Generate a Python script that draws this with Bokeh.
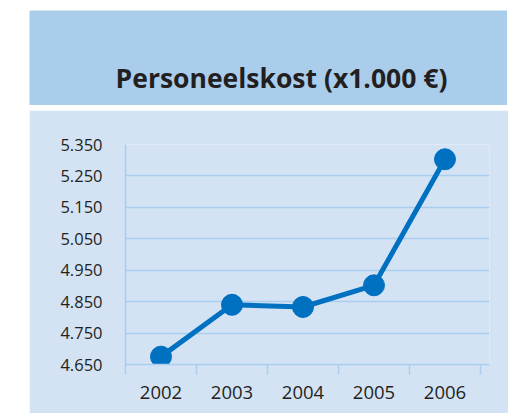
from bokeh.plotting import figure
from bokeh.models import Range1d, FixedTicker, Label, ColumnDataSource
from bokeh.layouts import column
from bokeh.embed import file_html
from bokeh.resources import INLINE

# ---- data ----
years = ["2002", "2003", "2004", "2005", "2006"]
kost = [4675, 4840, 4833, 4902, 5303]
y_ticks = [4650, 4750, 4850, 4950, 5050, 5150, 5250, 5350]
y_tick_labels = ["4.650", "4.750", "4.850", "4.950", "5.050", "5.150", "5.250", "5.350"]
title_text = "Personeelskost (x1.000 €)"

# ---- styles ----
HEADER = "#abcdec"
PANEL = "#d3e3f4"
GRID = "#a9cdee"
LINE = "#0070c0"
TEXT = "#231f20"
FONT = "Open Sans"

# ---- header ----
header = figure(width=478, height=95, x_axis_type=None, y_axis_type=None,
                x_range=Range1d(0, 478), y_range=Range1d(0, 95),
                toolbar_location=None, output_backend="svg", min_border=0,
                background_fill_color=HEADER, border_fill_color=HEADER,
                outline_line_color=None, margin=(10, 0, 0, 29))
header.frame_align = False
header.add_layout(Label(x=252, y=28, x_units="screen", y_units="screen",
                        text=title_text, text_align="center", text_baseline="alphabetic",
                        text_font=FONT, text_font_style="bold", text_font_size="26.5px",
                        text_color=TEXT))

# ---- main chart ----
xs = list(range(len(years)))
src = ColumnDataSource(dict(x=xs, y=kost))

p = figure(width=479, height=303, toolbar_location=None, output_backend="svg",
           x_range=Range1d(-0.5, len(years) - 0.5 + 0.127), y_range=Range1d(4650, 5350),
           min_border_left=96, min_border_right=19, min_border_top=34, min_border_bottom=49,
           background_fill_color=PANEL, border_fill_color=PANEL,
           outline_line_color=None, margin=(5, 0, 0, 29))
p.frame_align = False

p.line("x", "y", source=src, line_color=LINE, line_width=5)
p.scatter("x", "y", source=src, size=21, fill_color=LINE, line_color=LINE)

p.xgrid.visible = False
p.ygrid.grid_line_color = GRID
p.ygrid.grid_line_width = 1.5
p.ygrid.ticker = FixedTicker(ticks=y_ticks)

ya = p.yaxis[0]
ya.ticker = FixedTicker(ticks=y_ticks)
ya.major_label_overrides = {t: l for t, l in zip(y_ticks, y_tick_labels)}
ya.axis_line_color = GRID
ya.axis_line_width = 1.5
ya.major_tick_line_color = None
ya.minor_tick_line_color = None
ya.major_tick_out = 0
ya.major_tick_in = 0
ya.major_label_standoff = 23
ya.major_label_text_font = FONT
ya.major_label_text_font_size = "16.5px"
ya.major_label_text_color = TEXT

xa = p.xaxis[0]
xa.ticker = FixedTicker(ticks=xs, minor_ticks=[i - 0.5 for i in range(len(years) + 1)])
xa.major_label_overrides = {i: y for i, y in enumerate(years)}
xa.axis_line_color = GRID
xa.axis_line_width = 1.5
xa.major_tick_line_color = None
xa.major_tick_out = 0
xa.major_tick_in = 0
xa.minor_tick_line_color = GRID
xa.minor_tick_line_width = 1.5
xa.minor_tick_in = 0
xa.minor_tick_out = 10
xa.major_label_standoff = 11
xa.major_label_text_font = FONT
xa.major_label_text_font_size = "18.5px"
xa.major_label_text_color = TEXT

layout = column(header, p, spacing=0)
open("out.html", "w").write(file_html(layout, INLINE))
